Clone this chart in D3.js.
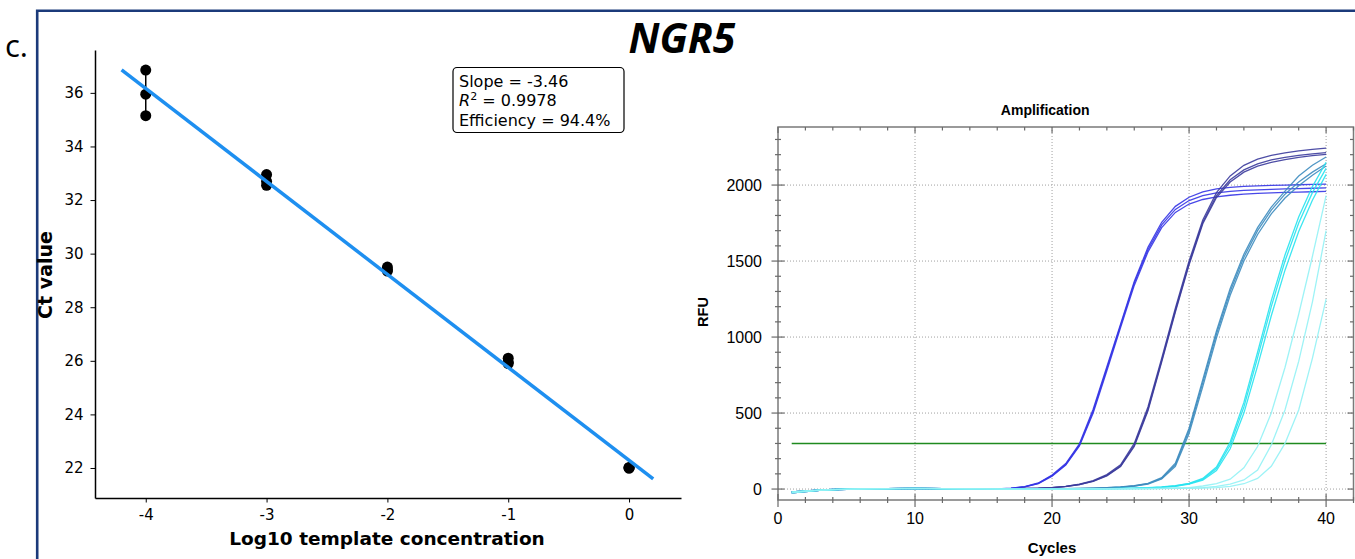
<!DOCTYPE html>
<html>
<head>
<meta charset="utf-8">
<script src="https://cdn.jsdelivr.net/npm/d3@7"></script>
<style>
body { margin: 0; background: #fff; }
svg { display: block; }
.ct text { font-family: 'DejaVu Sans', sans-serif; fill: #000; }
.amp text { font-family: 'Liberation Sans', Arial, sans-serif; fill: #000; }
</style>
</head>
<body>
<svg id="Chart" width="1355" height="559"></svg>
<script>
// standard curve (left)
var ctLog = [-4, -4, -4, -3, -3, -3, -2, -2, -2, -1, -1, -1, 0, 0, 0];
var ctValue = [36.85, 35.95, 35.15, 32.95, 32.7, 32.55, 29.5, 29.4, 29.35, 26.1, 25.95, 25.9, 22.0, 22.0, 22.02];
var ctXTicks = [-4, -3, -2, -1, 0];
var ctYTicks = [22, 24, 26, 28, 30, 32, 34, 36];
var fitNotes = ['Slope = -3.46', ' = 0.9978', 'Efficiency = 94.4%'];

// amplification plot (right)
var cycles = [1, 2, 3, 4, 5, 6, 7, 8, 9, 10, 11, 12, 13, 14, 15, 16, 17, 18, 19, 20,
    21, 22, 23, 24, 25, 26, 27, 28, 29, 30, 31, 32, 33, 34, 35, 36, 37, 38, 39, 40];
var baseA = [-22, -14, -8, -4, -1, 1, 2, 3, 3, 4, 3, 3, 2, 2, 1, 1];
var baseB = [-18, -12, -7, -3, 0, 2, 3, 3, 4, 4, 4, 3, 3, 2, 1, 1];
var baseC = [-25, -16, -9, -5, -2, 0, 1, 2, 3, 3, 3, 2, 2, 1, 1, 0];
var rfu1 = [
    baseA.concat([6, 16, 40, 92, 168, 298, 525, 805, 1085, 1365, 1590, 1755, 1860, 1920, 1955, 1975, 1985, 1991, 1995, 1998, 2000, 2002, 2004, 2006]),
    baseB.concat([5, 15, 38, 88, 162, 290, 512, 792, 1075, 1355, 1575, 1738, 1840, 1898, 1930, 1949, 1959, 1965, 1969, 1972, 1975, 1977, 1979, 1981]),
    baseC.concat([5, 14, 36, 85, 158, 284, 500, 778, 1062, 1340, 1560, 1720, 1820, 1875, 1905, 1922, 1933, 1940, 1945, 1949, 1952, 1954, 1956, 1958])
];
var rfu2 = [
    baseB.concat([2, 4, 6, 10, 18, 32, 55, 95, 160, 300, 540, 860, 1190, 1500, 1770, 1950, 2060, 2130, 2170, 2195, 2212, 2225, 2235, 2243]),
    baseA.concat([2, 4, 6, 9, 17, 30, 52, 90, 152, 288, 525, 845, 1175, 1485, 1755, 1930, 2035, 2100, 2140, 2165, 2182, 2195, 2205, 2213]),
    baseC.concat([2, 3, 5, 9, 16, 29, 50, 87, 148, 280, 515, 835, 1165, 1475, 1745, 1918, 2020, 2085, 2125, 2150, 2168, 2182, 2193, 2202])
];
var rfu3 = [
    baseA.concat([0, 1, 1, 2, 3, 4, 6, 9, 14, 22, 38, 75, 170, 400, 720, 1040, 1320, 1545, 1720, 1855, 1960, 2060, 2130, 2185]),
    baseB.concat([0, 1, 1, 2, 3, 4, 6, 9, 13, 20, 35, 70, 160, 385, 700, 1020, 1300, 1525, 1700, 1835, 1940, 2020, 2085, 2140]),
    baseC.concat([0, 0, 1, 1, 2, 3, 5, 8, 12, 19, 33, 66, 150, 365, 675, 995, 1275, 1500, 1675, 1810, 1915, 1995, 2065, 2125])
];
var rfu4 = [
    baseB.concat([0, 0, 1, 1, 1, 2, 2, 3, 4, 6, 9, 14, 22, 38, 70, 145, 310, 570, 900, 1240, 1540, 1790, 1990, 2150]),
    baseA.concat([0, 0, 1, 1, 1, 2, 2, 3, 4, 5, 8, 12, 20, 35, 64, 135, 290, 540, 865, 1200, 1500, 1750, 1950, 2110]),
    baseC.concat([0, 0, 0, 1, 1, 1, 2, 2, 3, 5, 7, 11, 18, 32, 58, 122, 265, 500, 810, 1140, 1440, 1695, 1900, 2070])
];
var rfu5 = [
    baseA.concat([0, 0, 0, 0, 1, 1, 1, 2, 2, 3, 4, 5, 7, 10, 20, 35, 65, 140, 280, 500, 800, 1150, 1530, 1930]),
    baseB.concat([0, 0, 0, 0, 0, 1, 1, 1, 2, 2, 3, 4, 5, 7, 10, 18, 32, 60, 125, 290, 520, 840, 1230, 1700]),
    baseC.concat([0, 0, 0, 0, 0, 0, 1, 1, 1, 2, 2, 3, 4, 5, 7, 10, 18, 35, 70, 150, 300, 520, 860, 1250])
];
var rfuGroups = [rfu1, rfu2, rfu3, rfu4, rfu5];
var groupColors = ['#3434e6', '#3b3b9c', '#3d8cbf', '#27e3ef', '#92f2f5'];
var threshold = 300;
var ampXTicks = [0, 10, 20, 30, 40];
var ampYTicks = [0, 500, 1000, 1500, 2000];

var svg = d3.select('#Chart');

// frame
svg.append('path')
    .attr('d', 'M37.2,559V10.8H1355')
    .attr('fill', 'none')
    .attr('stroke', '#1b3a7a')
    .attr('stroke-width', 2.6);
svg.append('text')
    .attr('x', 5)
    .attr('y', 56.5)
    .style('font-family', "'Open Sans', sans-serif")
    .style('font-size', '31px')
    .text('c.');
svg.append('text')
    .attr('x', 682)
    .attr('y', 53)
    .attr('text-anchor', 'middle')
    .style('font-family', "'Open Sans', sans-serif")
    .style('font-size', '41px')
    .style('font-weight', 'bold')
    .style('font-style', 'italic')
    .text('NGR5');

// ---- standard curve ----
var ct = svg.append('g').attr('class', 'ct');
var xCt = d3.scaleLinear().domain([-4.42, 0.43]).range([95, 681]);
var yCt = d3.scaleLinear().domain([20.88, 37.6]).range([498, 50]);

ct.append('g')
    .attr('transform', 'translate(95,0)')
    .call(d3.axisLeft(yCt).tickValues(ctYTicks).tickSize(4.5).tickSizeOuter(0).tickPadding(7))
    .call(function (g) {
        g.select('.domain').attr('stroke-width', 1.5);
        g.selectAll('text').style('font-size', '15px');
    });
ct.append('g')
    .attr('transform', 'translate(0,498)')
    .call(d3.axisBottom(xCt).tickValues(ctXTicks).tickSize(4.5).tickSizeOuter(0).tickPadding(7)
        .tickFormat(function (d) { return d3.format('d')(d).replace('\u2212', '-'); }))
    .call(function (g) {
        g.select('.domain').attr('stroke-width', 1.5);
        g.selectAll('text').style('font-size', '15px');
    });

// replicate spread
var spread = d3.groups(ctLog.map(function (d, i) { return [d, ctValue[i]]; }), function (d) { return d[0]; });
ct.append('g')
    .selectAll('line')
    .data(spread)
    .enter()
    .append('line')
    .attr('x1', function (d) { return xCt(d[0]); })
    .attr('x2', function (d) { return xCt(d[0]); })
    .attr('y1', function (d) { return yCt(d3.min(d[1], function (p) { return p[1]; })); })
    .attr('y2', function (d) { return yCt(d3.max(d[1], function (p) { return p[1]; })); })
    .attr('stroke', '#000')
    .attr('stroke-width', 1.5);
ct.append('g')
    .selectAll('circle')
    .data(ctLog)
    .enter()
    .append('circle')
    .attr('cx', function (d) { return xCt(d); })
    .attr('cy', function (d, i) { return yCt(ctValue[i]); })
    .attr('r', 5.5)
    .attr('fill', '#000');

// least squares fit
var mx = d3.mean(ctLog), my = d3.mean(ctValue);
var sxy = d3.sum(ctLog, function (d, i) { return (d - mx) * (ctValue[i] - my); });
var sxx = d3.sum(ctLog, function (d) { return (d - mx) * (d - mx); });
var slope = sxy / sxx;
var intercept = my - slope * mx;
var fitLine = d3.line()
    .x(function (d) { return xCt(d); })
    .y(function (d) { return yCt(slope * d + intercept); });
ct.append('path')
    .attr('d', fitLine([-4.2, 0.2]))
    .attr('fill', 'none')
    .attr('stroke', '#1e8ff0')
    .attr('stroke-width', 3.5);

ct.append('rect')
    .attr('x', 453)
    .attr('y', 67.5)
    .attr('width', 171)
    .attr('height', 65)
    .attr('rx', 4)
    .attr('fill', '#fff')
    .attr('stroke', '#000')
    .attr('stroke-width', 1.2);
var notes = ct.append('g').style('font-size', '16px');
notes.append('text').attr('x', 459).attr('y', 86.5).text(fitNotes[0]);
var r2 = notes.append('text').attr('x', 459).attr('y', 106);
r2.append('tspan').style('font-style', 'italic').text('R');
r2.append('tspan').attr('dy', -6).style('font-size', '11px').text('2');
r2.append('tspan').attr('dy', 6).text(fitNotes[1]);
notes.append('text').attr('x', 459).attr('y', 125.5).text(fitNotes[2]);

ct.append('text')
    .attr('transform', 'translate(52,275) rotate(-90)')
    .attr('text-anchor', 'middle')
    .style('font-size', '19px')
    .style('font-weight', 'bold')
    .text('Ct value');
ct.append('text')
    .attr('x', 387)
    .attr('y', 545)
    .attr('text-anchor', 'middle')
    .style('font-size', '18.5px')
    .style('font-weight', 'bold')
    .text('Log10 template concentration');

// ---- amplification ----
var amp = svg.append('g').attr('class', 'amp');
var xAmp = d3.scaleLinear().domain([0, 42]).range([778, 1353.5]);
var yAmp = d3.scaleLinear().domain([-72, 2382]).range([500, 127]);
var gridColor = '#a0a0a0';

amp.append('g')
    .selectAll('line')
    .data(ampXTicks.slice(1))
    .enter()
    .append('line')
    .attr('x1', function (d) { return xAmp(d); })
    .attr('x2', function (d) { return xAmp(d); })
    .attr('y1', yAmp.range()[1])
    .attr('y2', yAmp.range()[0])
    .attr('stroke', gridColor)
    .attr('stroke-dasharray', '1,2');
amp.append('g')
    .selectAll('line')
    .data(ampYTicks)
    .enter()
    .append('line')
    .attr('x1', xAmp.range()[0])
    .attr('x2', xAmp.range()[1])
    .attr('y1', function (d) { return yAmp(d); })
    .attr('y2', function (d) { return yAmp(d); })
    .attr('stroke', gridColor)
    .attr('stroke-dasharray', '1,2');

amp.append('line')
    .attr('x1', xAmp(1))
    .attr('x2', xAmp(40))
    .attr('y1', yAmp(threshold))
    .attr('y2', yAmp(threshold))
    .attr('stroke', '#1f8a1f')
    .attr('stroke-width', 1.6);

var curve = d3.line()
    .x(function (d, i) { return xAmp(cycles[i]); })
    .y(function (d) { return yAmp(d); });
rfuGroups.forEach(function (group, gi) {
    amp.append('g')
        .selectAll('path')
        .data(group)
        .enter()
        .append('path')
        .attr('d', curve)
        .attr('fill', 'none')
        .attr('stroke', groupColors[gi])
        .attr('stroke-width', 1.3)
        .attr('stroke-opacity', 0.9);
});

// box + ticks
amp.append('rect')
    .attr('x', xAmp.range()[0])
    .attr('y', yAmp.range()[1])
    .attr('width', xAmp.range()[1] - xAmp.range()[0])
    .attr('height', yAmp.range()[0] - yAmp.range()[1])
    .attr('fill', 'none')
    .attr('stroke', '#7a7a7a')
    .attr('stroke-width', 1.5);
var xMinor = d3.range(0, 43, 2);
var yMinor = d3.range(0, 2400, 100);
var ticks = amp.append('g').attr('stroke', '#6a6a6a').attr('stroke-width', 1.2);
ticks.selectAll('.bx')
    .data(xMinor)
    .enter()
    .append('line')
    .attr('x1', function (d) { return xAmp(d); })
    .attr('x2', function (d) { return xAmp(d); })
    .attr('y1', function (d) { return yAmp.range()[0] - (d % 10 === 0 ? 6 : 3); })
    .attr('y2', function (d) { return yAmp.range()[0] + (d % 10 === 0 ? 7 : 3); });
ticks.selectAll('.tx')
    .data(xMinor)
    .enter()
    .append('line')
    .attr('x1', function (d) { return xAmp(d); })
    .attr('x2', function (d) { return xAmp(d); })
    .attr('y1', yAmp.range()[1])
    .attr('y2', function (d) { return yAmp.range()[1] + (d % 10 === 0 ? 6 : 3.5); });
ticks.selectAll('.ly')
    .data(yMinor)
    .enter()
    .append('line')
    .attr('y1', function (d) { return yAmp(d); })
    .attr('y2', function (d) { return yAmp(d); })
    .attr('x1', function (d) { return xAmp.range()[0] - (d % 500 === 0 ? 6.5 : 3); })
    .attr('x2', function (d) { return xAmp.range()[0] + (d % 500 === 0 ? 6.5 : 3); });
ticks.selectAll('.ry')
    .data(yMinor)
    .enter()
    .append('line')
    .attr('y1', function (d) { return yAmp(d); })
    .attr('y2', function (d) { return yAmp(d); })
    .attr('x1', function (d) { return xAmp.range()[1] - (d % 500 === 0 ? 6 : 3.5); })
    .attr('x2', xAmp.range()[1]);

amp.append('g')
    .selectAll('text')
    .data(ampXTicks)
    .enter()
    .append('text')
    .attr('x', function (d) { return xAmp(d); })
    .attr('y', 524)
    .attr('text-anchor', 'middle')
    .style('font-size', '16px')
    .text(function (d) { return d; });
amp.append('g')
    .selectAll('text')
    .data(ampYTicks)
    .enter()
    .append('text')
    .attr('x', 762)
    .attr('y', function (d) { return yAmp(d) + 5.7; })
    .attr('text-anchor', 'end')
    .style('font-size', '16px')
    .text(function (d) { return d; });

amp.append('text')
    .attr('x', xAmp(19.5))
    .attr('y', 115)
    .attr('text-anchor', 'middle')
    .style('font-size', '14px')
    .style('font-weight', 'bold')
    .text('Amplification');
amp.append('text')
    .attr('x', xAmp(20))
    .attr('y', 553)
    .attr('text-anchor', 'middle')
    .style('font-size', '15px')
    .style('font-weight', 'bold')
    .text('Cycles');
amp.append('text')
    .attr('transform', 'translate(708,312) rotate(-90)')
    .attr('text-anchor', 'middle')
    .style('font-size', '14.5px')
    .style('font-weight', 'bold')
    .text('RFU');
</script>
</body>
</html>
